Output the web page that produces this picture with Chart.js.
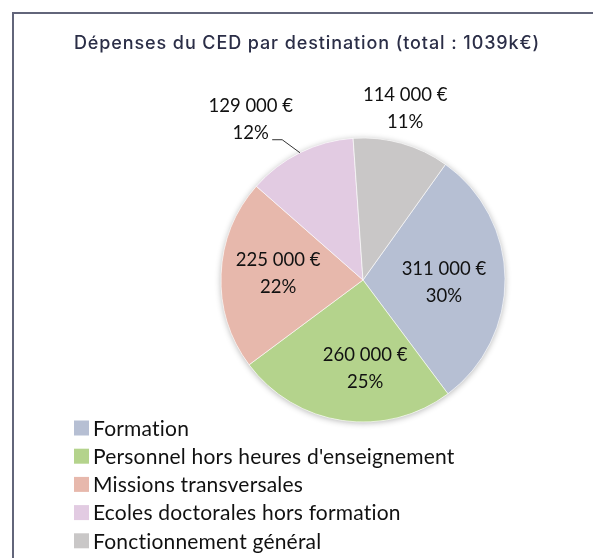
<!DOCTYPE html>
<html>
<head>
<meta charset="utf-8">
<script src="https://cdn.jsdelivr.net/npm/chart.js@4/dist/chart.umd.min.js"></script>
<style>
  html, body { margin: 0; padding: 0; background: #fff; }
  #wrap { position: relative; width: 593px; height: 558px; }
  #frame { position: absolute; left: 12px; top: 12px; right: 0; bottom: 0;
           border-left: 2px solid #62657a; border-top: 2px solid #62657a; }
  canvas { position: absolute; left: 0; top: 0; }
</style>
</head>
<body>
<div id="wrap">
  <div id="frame"></div>
  <canvas id="DepensesPieChart"></canvas>
</div>
<script>
const chartTitle = 'Dépenses du CED par destination (total : 1039k€)';
const categories = [
    'Formation',
    "Personnel hors heures d'enseignement",
    'Missions transversales',
    'Ecoles doctorales hors formation',
    'Fonctionnement général'
];
const amounts = [311000, 260000, 225000, 129000, 114000];
const percents = [30, 25, 22, 12, 11];
const sliceColors = ['#b6bfd3', '#b4d38c', '#e7b8ac', '#e2cbe2', '#c9c7c7'];

// where each value label sits: angle shift (deg) from slice middle, distance as a ratio of the radius
const labelPlacement = [
    { shift: 2, dist: 0.57 },
    { shift: -9.7, dist: 0.62 },
    { shift: 2.3, dist: 0.6 },
    { shift: -8.6, dist: 1.38, leader: true },
    { shift: -2, dist: 1.25 }
];

const formatEuro = v => String(v).replace(/\B(?=(\d{3})+(?!\d))/g, ' ') + ' €';

const pieExtras = {
    id: 'pieExtras',
    beforeDatasetsDraw(chart) {
        const ctx = chart.ctx;
        const arc = chart.getDatasetMeta(0).data[0];
        if (!arc) return;
        const { x, y, outerRadius } = arc.getProps(['x', 'y', 'outerRadius'], true);
        ctx.save();
        ctx.shadowColor = 'rgba(0, 0, 0, 0.3)';
        ctx.shadowBlur = 6;
        ctx.shadowOffsetY = 1;
        ctx.beginPath();
        ctx.arc(x, y, outerRadius, 0, Math.PI * 2);
        ctx.fillStyle = '#ffffff';
        ctx.fill();
        ctx.restore();
    },
    afterDatasetsDraw(chart) {
        const ctx = chart.ctx;
        const meta = chart.getDatasetMeta(0);
        ctx.save();
        ctx.font = '18.5px Lato';
        ctx.fillStyle = '#111111';
        ctx.textAlign = 'center';
        ctx.textBaseline = 'middle';
        meta.data.forEach((arc, i) => {
            const { x, y, startAngle, endAngle, outerRadius } =
                arc.getProps(['x', 'y', 'startAngle', 'endAngle', 'outerRadius'], true);
            const p = labelPlacement[i];
            const mid = (startAngle + endAngle) / 2;
            const a = mid + p.shift * Math.PI / 180;
            const lx = x + Math.cos(a) * outerRadius * p.dist;
            const ly = y + Math.sin(a) * outerRadius * p.dist;
            ctx.fillText(formatEuro(amounts[i]), lx, ly - 13);
            ctx.fillText(percents[i] + '%', lx, ly + 14);
            if (p.leader) {
                const a2 = mid - 3.6 * Math.PI / 180;
                const ex = x + Math.cos(a2) * outerRadius * 1.14;
                const ey = y + Math.sin(a2) * outerRadius * 1.14;
                ctx.beginPath();
                ctx.moveTo(x + Math.cos(mid) * outerRadius, y + Math.sin(mid) * outerRadius);
                ctx.lineTo(ex, ey);
                ctx.lineTo(ex - 10, ey);
                ctx.strokeStyle = '#333';
                ctx.lineWidth = 1;
                ctx.stroke();
            }
        });
        ctx.restore();
    },
    afterDraw(chart) {
        const ctx = chart.ctx;
        ctx.save();
        // title
        ctx.font = '500 18px Inter';
        ctx.letterSpacing = '0.9px';
        ctx.fillStyle = '#2b2e47';
        ctx.textAlign = 'center';
        ctx.textBaseline = 'middle';
        ctx.fillText(chartTitle, 307, 44);
        // legend, one item per line (small spacing also stops the "ti" ligature)
        ctx.font = '21px Lato';
        ctx.letterSpacing = '0.2px';
        ctx.textAlign = 'left';
        categories.forEach((label, i) => {
            const cy = 428 + i * 28.2;
            ctx.fillStyle = sliceColors[i];
            ctx.fillRect(74, cy - 7.5, 15, 15);
            ctx.fillStyle = '#111111';
            ctx.fillText(label, 93, cy + 1);
        });
        ctx.restore();
    }
};

const ctx = document.getElementById('DepensesPieChart').getContext('2d');

new Chart(ctx, {
    type: 'pie',
    data: {
        labels: categories,
        datasets: [{
            data: amounts,
            backgroundColor: sliceColors,
            borderColor: 'rgba(255, 255, 255, 0.6)',
            borderWidth: 1
        }]
    },
    options: {
        responsive: true,
        maintainAspectRatio: false,
        animation: false,
        rotation: 35.5,
        layout: {
            padding: { left: 220.5, right: 87.5, top: 137.5, bottom: 135.5 }
        },
        plugins: {
            legend: { display: false },
            title: { display: false },
            tooltip: { enabled: false }
        }
    },
    plugins: [pieExtras]
});
</script>
</body>
</html>
